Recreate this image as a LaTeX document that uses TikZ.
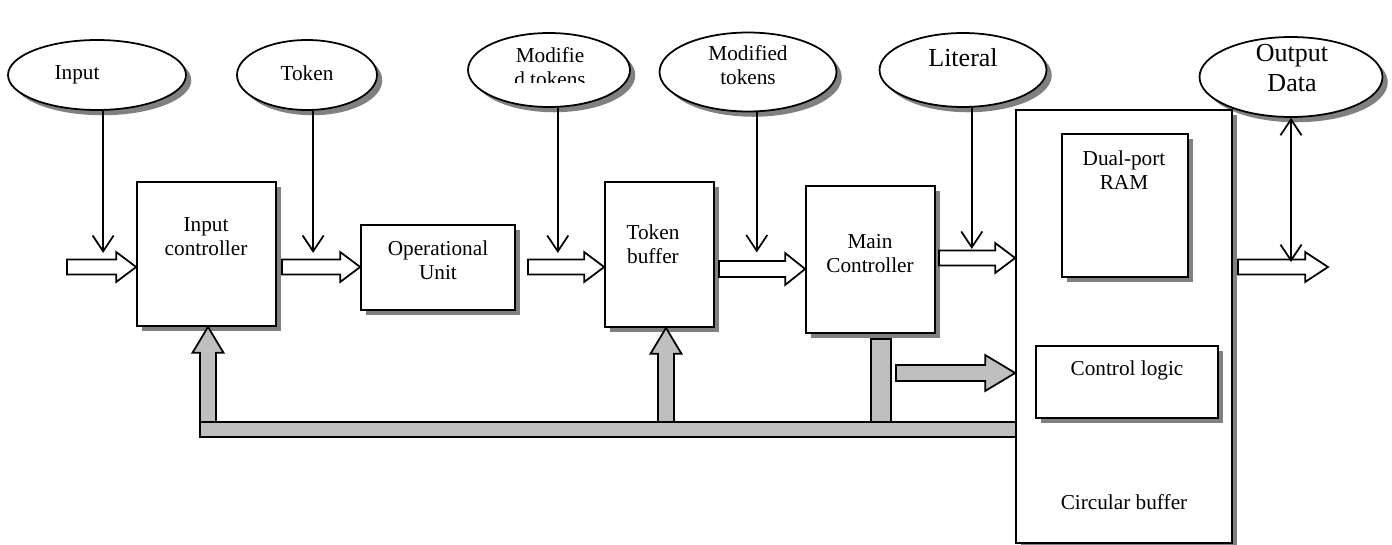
\documentclass[tikz,border=0pt]{standalone}
\usepackage{fontspec}
\setmainfont{Liberation Serif}
\usetikzlibrary{shapes.geometric,shadows,fit,calc,arrows.meta}

\tikzset{
  boxshadow/.style={drop shadow={shadow xshift=3pt,shadow yshift=-3pt,fill=gray,opacity=1}},
  blk/.style={draw,line width=1pt,fill=white,inner sep=0pt,boxshadow},
  oval/.style={ellipse,draw,line width=1pt,fill=white,inner sep=0pt,boxshadow},
  lbl/.style={font=\fontsize{12.1}{13.6}\selectfont,align=center,inner sep=0pt},
  biglbl/.style={font=\fontsize{14.8}{17}\selectfont,align=center,inner sep=0pt},
  feed/.style={line width=1pt,-{Straight Barb[length=9pt,width=12pt]}},
  feedboth/.style={line width=1pt,{Straight Barb[length=9pt,width=12pt]}-{Straight Barb[length=9pt,width=12pt]}},
  hollow/.style={draw,line width=1pt,fill=white},
  busfill/.style={draw,line width=1pt,fill=gray!50},
}

% block arrow to the right: [style]{from}{to}{half shaft}{half head}{head length}
\newcommand{\rflow}[6][hollow]{%
  \path[#1] let \p1=(#2), \p2=(#3) in
    (\x1,\y1+#4) -- (\x2-#6,\y1+#4) -- (\x2-#6,\y1+#5) -- (\x2,\y1)
    -- (\x2-#6,\y1-#5) -- (\x2-#6,\y1-#4) -- (\x1,\y1-#4) -- cycle;}
% grey block arrow pointing up
\newcommand{\uflow}[2]{%
  \path[busfill] let \p1=(#1), \p2=(#2) in
    (\x1-4.5pt,\y1) -- (\x1-4.5pt,\y2-14.7pt) -- (\x1-8.8pt,\y2-14.7pt) -- (\x1,\y2)
    -- (\x1+8.8pt,\y2-14.7pt) -- (\x1+4.5pt,\y2-14.7pt) -- (\x1+4.5pt,\y1) -- cycle;}

\begin{document}
\begin{tikzpicture}[x=0.02cm,y=-0.02cm]
\useasboundingbox (0,0) rectangle (1392,544);

% ovals on top
\node[oval,minimum width=3.56cm,minimum height=1.4cm] (inp) at (97,75) {};
\node[oval,minimum width=2.8cm,minimum height=1.4cm] (tok) at (307,75) {};
\node[oval,minimum width=3.24cm,minimum height=1.48cm] (mod1) at (549,70) {};
\node[oval,minimum width=3.54cm,minimum height=1.58cm] (mod2) at (748,72) {};
\node[oval,minimum width=3.34cm,minimum height=1.48cm] (lit) at (963,70) {};
\node[oval,minimum width=3.66cm,minimum height=1.6cm] (out) at (1291,77) {};

\begin{scope}
\clip (0,0) rectangle (200,89);
\node[lbl] (inptxt) at (77,85) {Input\\Data};
\end{scope}
\node[lbl] (toktxt) at (307,73) {Token};
\begin{scope}
\clip (460,0) rectangle (640,83);
\node[lbl] (mod1txt) at (550,67) {Modifie\\d tokens};
\end{scope}
\node[lbl] (mod2txt) at (748,65) {Modified\\tokens};
\node[biglbl] (littxt) at (963,58) {Literal};
\node[biglbl] (outtxt) at (1292,68) {Output\\Data};

% blocks
\node[blk,fit={(137,182) (276,326)}] (inc) {};
\node[blk,fit={(361,225) (515,310)}] (opu) {};
\node[blk,fit={(605,182) (714,327)}] (tkb) {};
\node[blk,fit={(806,186) (935,333)}] (mc) {};
\node[blk,fit={(1016,110) (1232,543)}] (cb) {};
\node[blk,fit={(1062,134) (1188,277)}] (ram) {};
\node[blk,fit={(1036,346) (1218,418)}] (cl) {};

\node[lbl] (inctxt) at (206,237) {Input\\controller};
\node[lbl] (oputxt) at (438,260) {Operational\\Unit};
\node[lbl] (tkbtxt) at (653,244) {Token\\buffer};
\node[lbl] (mctxt) at (870,254) {Main\\Controller};
\node[lbl] (ramtxt) at (1124,170) {Dual-port\\RAM};
\node[lbl] (cltxt) at (1127,370) {Control logic};
\node[lbl] (cbtxt) at (1124,502) {Circular buffer};

% white data arrows
\coordinate (h0) at (67,267);
\coordinate (h1) at (282,267);
\coordinate (h2) at (528,267);
\coordinate (h3) at (719,269);
\coordinate (h4) at (939,258);
\coordinate (h5) at (1238,267);
\coordinate (h6) at (1328,267);
\rflow{h0}{h0 -| inc.west}{4.25pt}{8.5pt}{11.3pt}
\rflow{h1}{h1 -| opu.west}{4.25pt}{8.5pt}{11.3pt}
\rflow{h2}{h2 -| tkb.west}{4.25pt}{8.5pt}{11.3pt}
\rflow{h3}{h3 -| mc.west}{4.5pt}{9pt}{11.3pt}
\rflow{h4}{h4 -| cb.west}{4.25pt}{8.5pt}{11.3pt}
\rflow{h5}{h6}{4.25pt}{8.5pt}{13pt}

% thin arrows from the ovals
\draw[feed] ([xshift=3.5pt]inp.south) -- ++(0,142);
\draw[feed] ([xshift=3.5pt]tok.south) -- ++(0,142);
\draw[feed] ([xshift=5pt]mod1.south) -- ++(0,145);
\draw[feed] ([xshift=5pt]mod2.south) -- ++(0,140);
\draw[feed] ([xshift=5pt]lit.south) -- ++(0,141);
\draw[feedboth] (out.south) -- (out.south |- 0,262);

% grey control bus
\coordinate (b1) at (208,422);
\coordinate (b2) at (666,422);
\coordinate (b3) at (881,422);
\coordinate (g0) at (896,373);
\uflow{b1}{b1 |- inc.south}
\uflow{b2}{b2 |- tkb.south}
\path[busfill] ($(b3)+(-10,0)$) rectangle ($(b3 |- mc.south)+(10,5)$);
\node[busfill,inner sep=0pt,fit={(200,422) (1016,437)}] (bus) {};
\rflow[busfill]{g0}{g0 -| cb.west}{4.5pt}{10.2pt}{17pt}
\end{tikzpicture}
\end{document}
